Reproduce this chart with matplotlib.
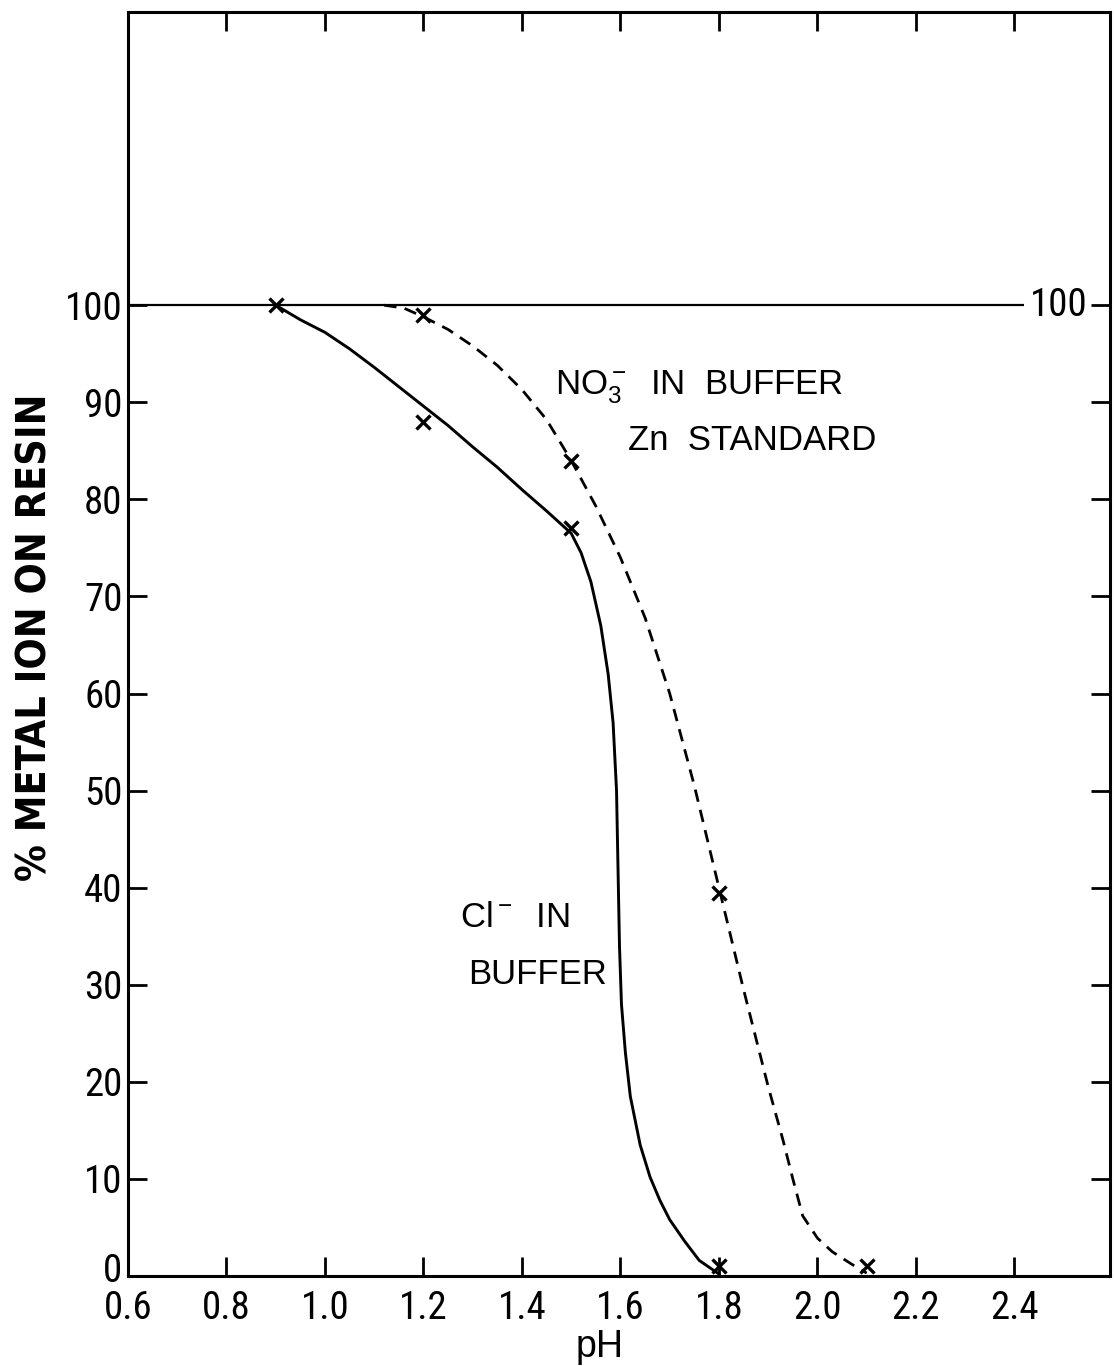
import matplotlib
matplotlib.use("Agg")
import matplotlib.pyplot as plt
import matplotlib.transforms as mtransforms
from matplotlib import font_manager

# ---------------- data ----------------
ph_ticks = [0.6, 0.8, 1.0, 1.2, 1.4, 1.6, 1.8, 2.0, 2.2, 2.4]
ph_tick_labels = ["0.6", "0.8", "1.0", "1.2", "1.4", "1.6", "1.8", "2.0", "2.2", "2.4"]
pct_ticks = [0, 10, 20, 30, 40, 50, 60, 70, 80, 90, 100]
pct_tick_labels = ["0", "10", "20", "30", "40", "50", "60", "70", "80", "90", "100"]

# measured points (x marks)
cl_ph = [0.9, 1.2, 1.5, 1.8]
cl_pct = [100, 88, 77, 1]
no3_ph = [1.2, 1.5, 1.8, 2.1]
no3_pct = [99, 84, 39.5, 1]

# hand-drawn curves
cl_curve_ph = [0.90, 0.95, 1.00, 1.05, 1.10, 1.15, 1.20, 1.25, 1.30, 1.35, 1.40,
               1.45, 1.50, 1.52, 1.54, 1.56, 1.575, 1.585, 1.592, 1.595, 1.598,
               1.602, 1.61, 1.62, 1.64, 1.66, 1.68, 1.70, 1.73, 1.76, 1.80]
cl_curve_pct = [100, 98.5, 97.2, 95.5, 93.6, 91.6, 89.6, 87.6, 85.4, 83.3, 81.0,
                78.8, 76.5, 74.5, 71.5, 67.0, 62.0, 57.0, 50.0, 42.0, 34.0,
                28.0, 23.0, 18.5, 13.5, 10.2, 7.8, 5.8, 3.6, 1.6, 0.2]
no3_curve_ph = [1.12, 1.16, 1.20, 1.25, 1.30, 1.35, 1.40, 1.45, 1.50, 1.55, 1.60,
                1.65, 1.70, 1.75, 1.80, 1.85, 1.90, 1.93, 1.95, 1.97, 2.00,
                2.03, 2.07, 2.10]
no3_curve_pct = [100, 99.7, 98.8, 97.5, 95.8, 93.8, 91.3, 88.2, 84.0, 79.3, 74.0,
                 67.8, 60.0, 50.5, 40.0, 29.5, 19.5, 14.0, 10.0, 6.2, 3.9,
                 2.5, 1.2, 0.3]

ref_level = 100
ref_line_end = 2.42
ref_label_x = 2.49

# ---------------- fonts ----------------
fl = font_manager.fontManager.ttflist
names = {f.name for f in fl}
tick_font = "DejaVu Sans"
tick_stretch = "normal"
tick_size = 23
for cand in ["Liberation Sans Narrow", "Roboto Condensed", "Open Sans Condensed",
             "DejaVu Sans Condensed", "Noto Sans Condensed"]:
    if cand in names:
        tick_font, tick_size = cand, 28
        break
else:
    for f in fl:
        if f.name == "DejaVu Sans" and str(f.stretch) in ("condensed", "semi-condensed", "600", "500", "75", "87.5"):
            tick_stretch, tick_size = "condensed", 26
            break

plain = "Liberation Sans" if "Liberation Sans" in names else "DejaVu Sans"
plt.rcParams["font.family"] = [plain, "DejaVu Sans"]
plt.rcParams["mathtext.fontset"] = "custom"
plt.rcParams["mathtext.rm"] = plain
plt.rcParams["mathtext.it"] = plain
plt.rcParams["mathtext.bf"] = plain

tick_kw = dict(fontfamily=tick_font, fontstretch=tick_stretch, fontsize=tick_size)

# ---------------- figure ----------------
fig = plt.figure(figsize=(11.15, 13.66), dpi=100)
ax = fig.add_axes([0.1148, 0.0659, 0.8807, 0.9253])
ax.set_xlim(0.6, 2.594)
ax.set_ylim(0, 130.2)

for s in ax.spines.values():
    s.set_linewidth(2.2)

ax.set_xticks(ph_ticks)
ax.set_xticklabels(ph_tick_labels, **tick_kw)
ax.set_yticks(pct_ticks)
ylabels = ax.set_yticklabels(pct_tick_labels, **tick_kw)
ax.tick_params(direction="in", length=14, width=2, top=True, right=True)
ax.tick_params(axis="x", pad=10)
ax.tick_params(axis="y", pad=4)

# lift the "0" label slightly, as in the original
ylabels[0].set_transform(ylabels[0].get_transform() +
                         mtransforms.ScaledTranslation(0, 6 / 72, fig.dpi_scale_trans))

ax.hlines(ref_level, 0.6, ref_line_end, color="black", lw=1.6)
ax.text(ref_label_x, ref_level, "100", ha="center", va="center", **tick_kw)

ax.plot(cl_curve_ph, cl_curve_pct, color="black", lw=2.1,
        solid_capstyle="round", solid_joinstyle="round")
ax.plot(no3_curve_ph, no3_curve_pct, color="black", lw=2.0, linestyle=(0, (4.5, 3)))
ax.plot(cl_ph, cl_pct, linestyle="none", marker="x", ms=10, mew=2.4, color="black")
ax.plot(no3_ph, no3_pct, linestyle="none", marker="x", ms=10, mew=2.4, color="black")

ann = dict(fontsize=25, color="black", va="center", ha="left")
ax.text(1.467, 91.5, r"NO$_3^-$  IN  BUFFER", **ann)
ax.text(1.615, 86.1, "Zn  STANDARD", **ann)
ax.text(1.274, 36.9, r"Cl$^-$  IN", **ann)
ax.text(1.29, 31.1, "BUFFER", **ann)

ax.set_xlabel("pH", fontsize=27)
ax.xaxis.set_label_coords(0.48, -0.056)
ax.xaxis.label.set_verticalalignment("center")
ax.set_ylabel("% METAL ION ON RESIN", fontfamily="DejaVu Sans", fontsize=29.5,
              fontweight="bold", fontstretch="condensed")
ax.yaxis.set_label_coords(-0.094, 0.5055)
ax.yaxis.label.set_verticalalignment("center")

fig.savefig("out.png", dpi=100)
